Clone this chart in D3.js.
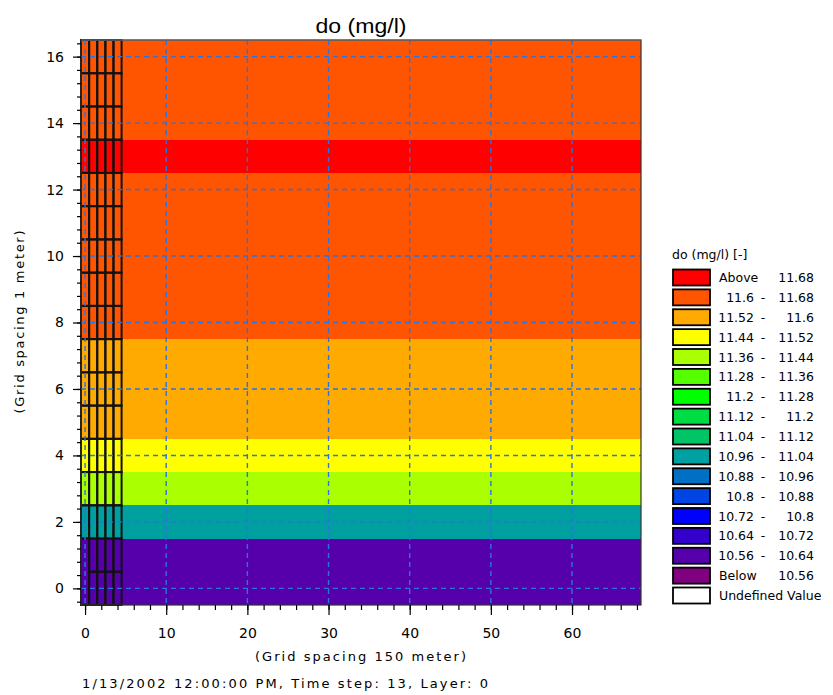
<!DOCTYPE html>
<html>
<head>
<meta charset="utf-8">
<script src="https://cdn.jsdelivr.net/npm/d3@7"></script>
<style>
html,body{margin:0;padding:0;background:#fff;overflow:hidden;}
svg text{font-family:"DejaVu Sans","Liberation Sans",sans-serif;fill:#000;}
</style>
</head>
<body>
<svg id="chart" width="833" height="695"></svg>
<script>
// ---------- data ----------
const titleText = "do (mg/l)";
const xLabel = "(Grid spacing 150 meter)";
const yLabel = "(Grid spacing 1 meter)";
const footerText = "1/13/2002 12:00:00 PM, Time step: 13, Layer: 0";
const legendTitle = "do (mg/l) [-]";

// row index (y) -> representative DO value of the band
const rows = [0,1,2,3,4,5,6,7,8,9,10,11,12,13,14,15,16];
const rowValues = [10.60,10.60,11.00,11.40,11.48,11.56,11.56,11.56,11.64,11.64,11.64,11.64,11.64,11.70,11.64,11.64,11.64];

// legend classes (top to bottom)
const classLower = ["Above", "11.6", "11.52", "11.44", "11.36", "11.28", "11.2", "11.12", "11.04", "10.96", "10.88", "10.8", "10.72", "10.64", "10.56", "Below", "Undefined Value"];
const classUpper = ["11.68", "11.68", "11.6", "11.52", "11.44", "11.36", "11.28", "11.2", "11.12", "11.04", "10.96", "10.88", "10.8", "10.72", "10.64", "10.56", ""];
const classColors = ["#ff0000","#ff5500","#ffaa00","#ffff00","#aaff00","#55ff00","#00ff00","#00dd44","#00c466","#00a0a0","#0070c4","#0044e4","#0000ff","#3300cc","#5500aa","#800080","#ffffff"];
const thresholds = [10.56,10.64,10.72,10.8,10.88,10.96,11.04,11.12,11.2,11.28,11.36,11.44,11.52,11.6,11.68];

// model grid columns outlined at the left edge, with merged cells
const gridCols = [0,1,2,3,4];
const mergedCells = [{col:0, r0:0, r1:1}];

const xMajor = [0,10,20,30,40,50,60];
const xMinor = d3.range(0, 69, 2);
const yMajor = [0,2,4,6,8,10,12,14,16];
const yMinor = d3.range(-0.4, 16.5, 0.4).map(v => +v.toFixed(1));
const xDomain = [-0.5, 68.5];
const yDomain = [-0.5, 16.5];

// ---------- drawing ----------
const svg = d3.select("#chart");
const P = {left:81, right:641, top:40, bottom:605};
const x = d3.scaleLinear().domain(xDomain).range([P.left, P.right]);
const y = d3.scaleLinear().domain(yDomain).range([P.bottom, P.top]);
const color = d3.scaleThreshold().domain(thresholds).range(classColors.slice(0,16).reverse());

// bands
svg.append("g").selectAll("rect").data(rows).join("rect")
  .attr("x", x(xDomain[0]))
  .attr("width", x(xDomain[1]) - x(xDomain[0]))
  .attr("y", r => y(r + 0.5))
  .attr("height", r => y(r - 0.5) - y(r + 0.5))
  .attr("fill", (r,i) => color(rowValues[i]))
  .attr("shape-rendering","crispEdges");

// left grid cell outlines
const cells = [];
gridCols.forEach(c => rows.forEach(r => {
  const m = mergedCells.find(mc => mc.col === c && r >= mc.r0 && r <= mc.r1);
  if (m) { if (r === m.r0) cells.push({c, r0:m.r0, r1:m.r1}); }
  else cells.push({c, r0:r, r1:r});
}));
svg.append("g").selectAll("rect").data(cells).join("rect")
  .attr("x", d => x(d.c - 0.5))
  .attr("width", d => x(d.c + 0.5) - x(d.c - 0.5))
  .attr("y", d => y(d.r1 + 0.5))
  .attr("height", d => y(d.r0 - 0.5) - y(d.r1 + 0.5))
  .attr("fill","none").attr("stroke","#111").attr("stroke-width",2);

// dashed grid lines
const grid = svg.append("g").attr("stroke","#2e72dc").attr("stroke-width",1.4).attr("stroke-dasharray","5,4");
grid.selectAll("line.v").data(xMajor).join("line").attr("class","v")
  .attr("x1", d => x(d)).attr("x2", d => x(d)).attr("y1", P.top).attr("y2", P.bottom);
grid.selectAll("line.h").data(yMajor).join("line").attr("class","h")
  .attr("y1", d => y(d)).attr("y2", d => y(d)).attr("x1", P.left).attr("x2", P.right);

// frame
svg.append("rect").attr("x",P.left).attr("y",P.top).attr("width",P.right-P.left).attr("height",P.bottom-P.top)
  .attr("fill","none").attr("stroke","#333").attr("stroke-width",1.2);
svg.append("line").attr("x1",P.left).attr("x2",P.right).attr("y1",P.top).attr("y2",P.top)
  .attr("stroke","#777").attr("stroke-width",1.2);

// axes
function styleAxis(g){ g.select(".domain").remove(); g.selectAll("line").attr("stroke","#000").attr("stroke-width",1.2); }
svg.append("g").attr("transform",`translate(0,${P.bottom})`)
  .call(d3.axisBottom(x).tickValues(xMinor).tickSize(5).tickFormat(""))
  .call(styleAxis);
svg.append("g").attr("transform",`translate(0,${P.bottom})`)
  .call(d3.axisBottom(x).tickValues(xMajor).tickSize(10).tickPadding(13).tickFormat(d3.format("d")))
  .call(styleAxis)
  .selectAll("text").attr("font-size","14px").attr("font-family","DejaVu Sans");
svg.append("g").attr("transform",`translate(${P.left},0)`)
  .call(d3.axisLeft(y).tickValues(yMinor).tickSize(4).tickFormat(""))
  .call(styleAxis);
svg.append("g").attr("transform",`translate(${P.left},0)`)
  .call(d3.axisLeft(y).tickValues(yMajor).tickSize(8).tickPadding(9).tickFormat(d3.format("d")))
  .call(styleAxis)
  .selectAll("text").attr("font-size","14px").attr("font-family","DejaVu Sans");

// title & labels
svg.append("text").attr("x",(P.left+P.right)/2).attr("y",33).attr("text-anchor","middle")
  .attr("font-size","21px").style("font-family","'Liberation Sans',Arial,sans-serif")
  .attr("textLength",91).attr("lengthAdjust","spacingAndGlyphs").text(titleText);
svg.append("text").attr("x",255).attr("y",661).attr("font-size","13px")
  .attr("textLength",211).attr("lengthAdjust","spacing").text(xLabel);
svg.append("text").attr("transform","translate(24,322) rotate(-90)").attr("text-anchor","middle")
  .attr("font-size","13px").attr("textLength",183).attr("lengthAdjust","spacing").text(yLabel);
svg.append("text").attr("x",82).attr("y",688).attr("font-size","13px")
  .attr("textLength",406).attr("lengthAdjust","spacing").text(footerText);

// legend
const L = {x:673, y:269.5, w:37, h:16, pitch:19.875};
const lg = svg.append("g");
lg.append("text").attr("x",L.x-1).attr("y",259).attr("font-size","12.5px").text(legendTitle);
const items = lg.selectAll("g.item").data(classColors).join("g").attr("class","item")
  .attr("transform",(d,i)=>`translate(0,${L.y + i*L.pitch})`);
items.append("rect").attr("x",L.x).attr("width",L.w).attr("height",L.h)
  .attr("fill",d=>d).attr("stroke","#000").attr("stroke-width",1.8);
items.each(function(d,i){
  const g = d3.select(this);
  const lo = classLower[i], hi = classUpper[i];
  const base = 12.5;
  if (lo === "Above" || lo === "Below" || hi === "") {
    g.append("text").attr("x",719).attr("y",base).attr("font-size","12.5px").text(lo);
    if (hi) g.append("text").attr("x",814).attr("y",base).attr("text-anchor","end").attr("font-size","12.5px").text(hi);
  } else {
    g.append("text").attr("x",754).attr("y",base).attr("text-anchor","end").attr("font-size","12.5px").text(lo);
    g.append("text").attr("x",763).attr("y",base).attr("text-anchor","middle").attr("font-size","12.5px").text("-");
    g.append("text").attr("x",814).attr("y",base).attr("text-anchor","end").attr("font-size","12.5px").text(hi);
  }
});
</script>
</body>
</html>
